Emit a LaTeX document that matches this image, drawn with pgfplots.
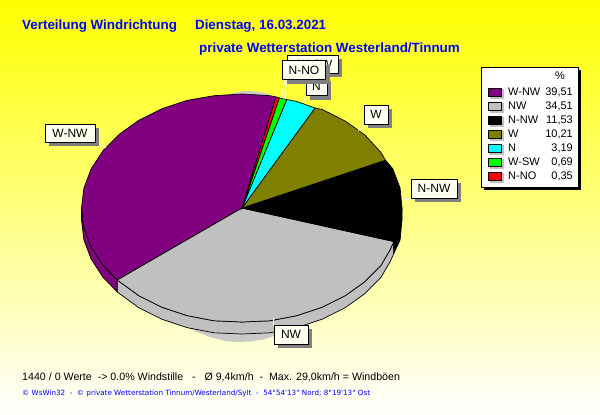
\documentclass[border=0pt]{standalone}
\usepackage{fontspec}
\setmainfont{Liberation Sans}
\newfontfamily\smallfont{DejaVu Sans}
\usepackage{pgfplots}
\pgfplotsset{compat=1.18}
\definecolor{cWNW}{HTML}{800080}
\definecolor{cNW}{HTML}{C0C0C0}
\definecolor{cNNW}{HTML}{000000}
\definecolor{cW}{HTML}{808000}
\definecolor{cN}{HTML}{00FFFF}
\definecolor{cWSW}{HTML}{00FF00}
\definecolor{cNNO}{HTML}{FF0000}
\definecolor{ivory}{HTML}{FFFFF0}
\definecolor{titleblue}{HTML}{0000FF}
\definecolor{shadowgrey}{HTML}{808080}
\tikzset{
  lab/.style={draw=black, line width=0.7pt, fill=ivory, inner sep=0pt, text=black,
    font=\fontsize{12}{12}\selectfont, anchor=center, align=center},
  leader/.style={draw=white, line width=0.7pt},
  slice/.style={draw=black, line width=0.7pt},
}
% label box: centre x, centre y, width, height, text
\newcommand{\lbox}[5]{%
  \fill[shadowgrey] (axis cs:#1-#3/2+4,#2-#4/2+4) rectangle (axis cs:#1+#3/2+4,#2+#4/2+4);
  \node[lab, minimum width=#3pt, minimum height=#4pt] at (axis cs:#1,#2) {#5};
}
% legend row: y, colour, name, value
\newcommand{\lrow}[4]{%
  \fill[cNW] (axis cs:490,#1-3) rectangle (axis cs:504,#1+7);
  \fill[#2] (axis cs:488,#1-4) rectangle (axis cs:501,#1+4);
  \draw[black, line width=0.5pt] (axis cs:488,#1-4) rectangle (axis cs:501,#1+4);
  \node[anchor=west, font=\fontsize{11}{11}\selectfont, inner sep=0pt] at (axis cs:508,#1) {#3};
  \node[anchor=east, font=\fontsize{11}{11}\selectfont, inner sep=0pt] at (axis cs:573,#1) {#4};
}
\begin{document}
\begin{tikzpicture}
\begin{axis}[
    width=600pt, height=415pt, scale only axis,
    xmin=0, xmax=600, ymin=0, ymax=415,
    y dir=reverse,
    axis lines=none,
    clip=true,
]
% background
\fill[top color=yellow, bottom color=white] (axis cs:0,0) rectangle (axis cs:600,415);

% shadow behind the pie, shows at the top and the bottom only
\addplot[fill=cNW!85!white, draw=none] coordinates {
  (170,320) (182,325) (195,331) (210,337) (225,341) (237,342) (250,341.5)
  (265,339) (280,334) (293,327) (300,320)} --cycle;
\addplot[fill=cNW!85!white, draw=none] coordinates {
  (225,96) (235,92.5) (245,91) (255,91.5) (265,93) (277,97) (277,100) (225,100)} --cycle;

% side walls
\addplot[slice, fill=cWNW] coordinates {
  (81.5,208) (83.9,227.9) (91.2,247.2) (103,265.25) (117.3,280)
  (117.3,292) (103,277.25) (91.2,259.2) (83.9,239.9) (81.5,220)} --cycle;
\addplot[slice, fill=cNW] coordinates {
  (117.3,280) (138.8,295.7) (161.75,307.2) (187.1,315.6) (214.1,320.8) (242,322)
  (269.9,320.8) (296.9,315.6) (322.25,307.2) (345.2,295.7) (364.9,281.6) (381,265.25)
  (390,250) (393.8,241.5)
  (393.8,253.5) (390,262) (381,277.25) (364.9,293.6) (345.2,307.7) (322.25,319.2)
  (296.9,327.6) (269.9,332.8) (242,334) (214.1,332.8) (187.1,327.6) (161.75,319.2)
  (138.8,307.7) (117.3,292)} --cycle;
\addplot[slice, fill=cNNW] coordinates {
  (393.8,241.5) (400.1,227.9) (402,208) (402,220) (400.1,239.9) (393.8,253.5)} --cycle;

% top of the pie
\addplot[slice, fill=cWNW] coordinates {
  (242,208) (276,97) (269.9,95.7) (242,94) (214.1,95.7) (187.1,100.4) (161.75,108.8)
  (138.8,120.3) (119.1,134.4) (103,150.75) (91.2,168.8) (83.9,188.1) (81.5,208)
  (83.9,227.9) (91.2,247.2) (103,265.25) (117.3,280)} --cycle;
\addplot[slice, fill=cNW] coordinates {
  (242,208) (117.3,280) (138.8,295.7) (161.75,307.2) (187.1,315.6) (214.1,320.8) (242,322)
  (269.9,320.8) (296.9,315.6) (322.25,307.2) (345.2,295.7) (364.9,281.6) (381,265.25)
  (390,250) (393.8,241.5)} --cycle;
\addplot[slice, fill=cNNW] coordinates {
  (242,208) (393.8,241.5) (400.1,227.9) (402,208) (400.1,188.1) (392.8,168.8) (385.5,160.2)} --cycle;
\addplot[slice, fill=cW] coordinates {
  (242,208) (385.5,160.2) (381,152.5) (364.9,135) (345.2,121) (322.25,109.5) (315,108)} --cycle;
\addplot[slice, fill=cN] coordinates {
  (242,208) (315,108) (296.9,101.5) (286.7,99.5)} --cycle;
\addplot[slice, fill=cWSW] coordinates {(242,208) (286.7,99.5) (279.3,98)} --cycle;
\addplot[slice, fill=cNNO] coordinates {(242,208) (279.3,98) (276,97)} --cycle;

% leader lines
\draw[leader] (axis cs:97,143) -- (axis cs:106,148);
\draw[leader] (axis cs:402,200) -- (axis cs:413,199);
\draw[leader] (axis cs:365,125) -- (axis cs:358,131);
\draw[leader] (axis cs:307,95) -- (axis cs:303,103);
\draw[leader] (axis cs:285,80) -- (axis cs:281,98);
\draw[leader] (axis cs:287,80) -- (axis cs:284,99);
\draw[leader] (axis cs:273.5,318) -- (axis cs:273.5,326);

% slice labels
\lbox{70}{133}{50}{18}{W-NW}
\lbox{434}{188.5}{46}{19}{N-NW}
\lbox{376}{114.5}{24}{19}{W}
\lbox{312.5}{64}{51}{18}{\hspace{5pt}W-SW}
\lbox{316.5}{86}{21}{19}{N}
\lbox{304}{70}{43}{19}{N-NO}
\lbox{291}{334.5}{34}{19}{NW}

% legend
\fill[black] (axis cs:484,70) rectangle (axis cs:581,190);
\filldraw[fill=white, draw=black, line width=0.7pt] (axis cs:481,67) rectangle (axis cs:578,187);
\node[anchor=east, font=\fontsize{11}{11}\selectfont, inner sep=0pt] at (axis cs:565,76) {\%};
\lrow{92}{cWNW}{W-NW}{39,51}
\lrow{106}{cNW}{NW}{34,51}
\lrow{120}{cNNW}{N-NW}{11,53}
\lrow{134}{cW}{W}{10,21}
\lrow{148}{cN}{N}{3,19}
\lrow{162}{cWSW}{W-SW}{0,69}
\lrow{176}{cNNO}{N-NO}{0,35}

% titles and footer
\node[anchor=west, inner sep=0pt, text=titleblue, font=\fontsize{13.4}{14}\selectfont\bfseries] at (axis cs:22,26)
  {Verteilung Windrichtung\ \ \ \hspace{7pt}Dienstag, 16.03.2021};
\node[anchor=west, inner sep=0pt, text=titleblue, font=\fontsize{13.4}{14}\selectfont\bfseries] at (axis cs:199,49)
  {private Wetterstation Westerland/Tinnum};
\node[anchor=west, inner sep=0pt, font=\fontsize{10.65}{11}\selectfont] at (axis cs:22,377)
  {1440 / 0 Werte\ \ -> 0.0\% Windstille\ \ \ -\ \ \ Ø 9,4km/h\ \ -\ \ Max. 29,0km/h = Windböen};
\node[anchor=west, inner sep=0pt, text=titleblue, font=\fontsize{7.2}{7.5}\selectfont\smallfont] at (axis cs:22,394)
  {© WsWin32\ \ -\ \ © private Wetterstation Tinnum/Westerland/Sylt\ \ -\ \ 54°54'13" Nord; 8°19'13" Ost};
\end{axis}
\end{tikzpicture}
\end{document}
